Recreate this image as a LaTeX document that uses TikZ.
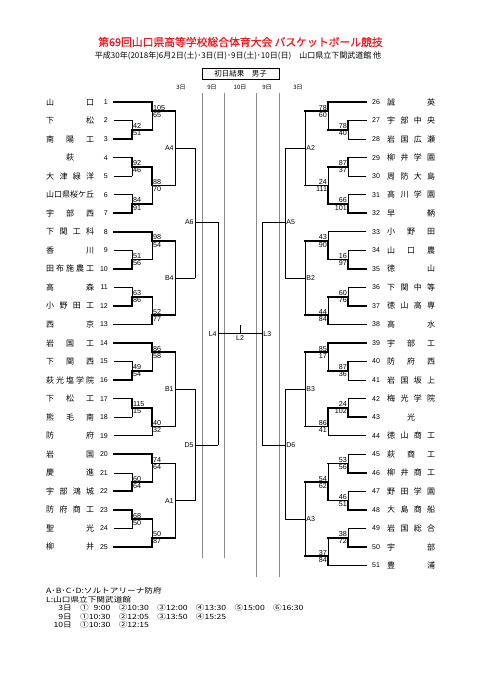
\documentclass[tikz,border=0pt]{standalone}
\usepackage{fontspec}
\setmainfont{Noto Sans CJK JP}
\newfontfamily\numfont{Liberation Sans}
\newfontfamily\titlefont[FakeBold=1]{Noto Sans CJK JP}
\newfontfamily\widefont[FakeStretch=1.2]{Noto Sans CJK JP}
\definecolor{titlered}{RGB}{232,28,36}

% team names are spread over a fixed width
\def\spreadend{}
\newcommand\spread[1]{\makebox[48pt][s]{\spreadA#1\spreadend}}
\def\spreadA#1{#1\spreadB}
\def\spreadB#1{\ifx#1\spreadend\else\hfill#1\expandafter\spreadB\fi}
\newcommand\slot[1]{\makebox[38.6pt][l]{#1}}

% number, row, name, end of line, line style
\newcommand\lteam[5]{%
  \node[tname,anchor=west] (n#1) at (46,#2) {\spread{#3}};
  \node[tnum,anchor=east] (k#1) at (108,#2) {#1};
  \draw[#5] ([xshift=6pt]k#1.east) -- (#4,#2);}
\newcommand\rteam[5]{%
  \node[tnum,anchor=west] (k#1) at (372,#2) {#1};
  \node[tname,anchor=west] (n#1) at (387,#2) {\spread{#3}};
  \draw[#5] (#4,#2) -- ([xshift=-6pt]k#1.west);}

% x, next x, top row, bottom row, junction row, top style, bottom style, scores
\newcommand\lgame[9]{%
  \draw[#6] (#1,#3) -- (#1,#5);
  \draw[#7] (#1,#5) -- (#1,#4);
  \draw[won] (#1,#5) -- (#2,#5);
  \node[score,anchor=south west] (st#1x#5) at (#1,#5) {#8};
  \node[score,anchor=north west] (sb#1x#5) at (#1,#5) {#9};}
\newcommand\rgame[9]{%
  \draw[#6] (#1,#3) -- (#1,#5);
  \draw[#7] (#1,#5) -- (#1,#4);
  \draw[won] (#1,#5) -- (#2,#5);
  \node[score,anchor=south east] (st#1x#5) at (#1,#5) {#8};
  \node[score,anchor=north east] (sb#1x#5) at (#1,#5) {#9};}

% games still to come
\newcommand\lnext[6]{%
  \draw[lost] (#1,#3) -- (#1,#4);
  \draw[lost] (#1,#5) -- (#2,#5);
  \node[rnd,anchor=east] (#6) at (#1,#5) {#6};}
\newcommand\rnext[6]{%
  \draw[lost] (#1,#3) -- (#1,#4);
  \draw[lost] (#1,#5) -- (#2,#5);
  \node[rnd,anchor=west] (#6) at (#1,#5) {#6};}

\begin{document}
\begin{tikzpicture}[x=1pt,y=-1pt,line cap=rect,
  won/.style={line width=1.7pt},
  lost/.style={line width=0.6pt},
  colline/.style={line width=0.5pt,black!45},
  tname/.style={font=\fontsize{8}{9}\selectfont,inner sep=0pt},
  tnum/.style={font=\numfont\fontsize{7}{8}\selectfont,inner sep=0pt},
  score/.style={font=\numfont\fontsize{7.2}{8}\selectfont,inner sep=0.8pt},
  rnd/.style={font=\numfont\fontsize{7}{8}\selectfont,inner sep=1.2pt},
  day/.style={font=\fontsize{6}{7}\selectfont,inner sep=0pt},
  foot/.style={font=\widefont\fontsize{7.2}{8}\selectfont,inner sep=0pt,anchor=west}]
\useasboundingbox (0,0) rectangle (481,680);

\node[font=\titlefont\fontsize{10.8}{12}\selectfont,text=titlered] (title) at (240.5,42) {第69回山口県高等学校総合体育大会 バスケットボール競技};
\node[font=\fontsize{8}{9}\selectfont] (date) at (238,56) {平成30年(2018年)6月2日(土)･3日(日)･9日(土)･10日(日)　山口県立下関武道館 他};
\node[draw,line width=0.6pt,minimum width=77pt,minimum height=11pt,inner sep=0pt,font=\fontsize{7.5}{8}\selectfont] (result) at (240.5,73.5) {初日結果　男子};
\node[day] (d1) at (181,87) {3日};
\node[day] (d2) at (212,87) {9日};
\node[day] (d3) at (240,87) {10日};
\node[day] (d4) at (267,87) {9日};
\node[day] (d5) at (298,87) {3日};

\draw[colline] (202,93) -- (202,558);
\draw[colline] (224,93) -- (224,558);
\draw[colline] (256,93) -- (256,577);
\draw[colline] (279,93) -- (279,577);

\begin{scope}[shift={(0pt,-102pt)},y=-9.27pt]
\lteam{1}{0}{山口}{152}{won}
\lteam{2}{2}{下松}{132}{lost}
\lteam{3}{4}{南陽工}{132}{won}
\lteam{4}{6}{{\hfill 萩\hfill}}{132}{won}
\lteam{5}{8}{大津緑洋}{132}{lost}
\lteam{6}{10}{山口県桜ケ丘}{132}{lost}
\lteam{7}{12}{宇部西}{132}{won}
\lteam{8}{14}{下関工科}{152}{won}
\lteam{9}{16}{香川}{132}{lost}
\lteam{10}{18}{田布施農工}{132}{won}
\lteam{11}{20}{高森}{132}{lost}
\lteam{12}{22}{小野田工}{132}{won}
\lteam{13}{24}{西京}{152}{won}
\lteam{14}{26}{岩国工}{152}{won}
\lteam{15}{28}{下関西}{132}{lost}
\lteam{16}{30}{萩光塩学院}{132}{won}
\lteam{17}{32}{下松工}{132}{won}
\lteam{18}{34}{熊毛南}{132}{lost}
\lteam{19}{36}{防府}{152}{lost}
\lteam{20}{38}{岩国}{152}{won}
\lteam{21}{40}{慶進}{132}{lost}
\lteam{22}{42}{宇部鴻城}{132}{won}
\lteam{23}{44}{防府商工}{132}{won}
\lteam{24}{46}{聖光}{132}{lost}
\lteam{25}{48}{柳井}{152}{won}

\rteam{26}{0}{誠英}{328}{won}
\rteam{27}{2}{宇部中央}{348}{won}
\rteam{28}{4}{岩国広瀬}{348}{lost}
\rteam{29}{6}{柳井学園}{348}{won}
\rteam{30}{8}{周防大島}{348}{lost}
\rteam{31}{10}{高川学園}{348}{lost}
\rteam{32}{12}{早鞆}{348}{won}
\rteam{33}{14}{小野田}{328}{lost}
\rteam{34}{16}{山口農}{348}{lost}
\rteam{35}{18}{徳山}{348}{won}
\rteam{36}{20}{下関中等}{348}{lost}
\rteam{37}{22}{徳山高専}{348}{won}
\rteam{38}{24}{高水}{328}{won}
\rteam{39}{26}{宇部工}{328}{won}
\rteam{40}{28}{防府西}{348}{won}
\rteam{41}{30}{岩国坂上}{348}{lost}
\rteam{42}{32}{梅光学院}{348}{lost}
\rteam{43}{34}{{\hfill 光\hfill}}{348}{won}
\rteam{44}{36}{徳山商工}{328}{lost}
\rteam{45}{38}{萩商工}{348}{lost}
\rteam{46}{40}{柳井商工}{348}{won}
\rteam{47}{42}{野田学園}{348}{lost}
\rteam{48}{44}{大島商船}{348}{won}
\rteam{49}{46}{岩国総合}{348}{lost}
\rteam{50}{48}{宇部}{348}{won}
\rteam{51}{50}{豊浦}{328}{won}

\lgame{132}{152}{2}{4}{3}{lost}{won}{42}{51}
\lgame{152}{175}{0}{3}{1}{won}{lost}{105}{65}
\lgame{132}{152}{6}{8}{7}{won}{lost}{92}{46}
\lgame{132}{152}{10}{12}{11}{lost}{won}{84}{91}
\lgame{152}{175}{7}{11}{9}{won}{lost}{88}{70}
\lgame{132}{152}{16}{18}{17}{lost}{won}{51}{56}
\lgame{152}{175}{14}{17}{15}{won}{lost}{98}{54}
\lgame{132}{152}{20}{22}{21}{lost}{won}{63}{86}
\lgame{152}{175}{21}{24}{23}{lost}{won}{52}{77}
\lgame{132}{152}{28}{30}{29}{lost}{won}{49}{54}
\lgame{152}{175}{26}{29}{27}{won}{lost}{86}{58}
\lgame{132}{152}{32}{34}{33}{won}{lost}{115}{15}
\lgame{152}{175}{33}{36}{35}{won}{lost}{40}{32}
\lgame{132}{152}{40}{42}{41}{lost}{won}{60}{64}
\lgame{152}{175}{38}{41}{39}{won}{lost}{74}{64}
\lgame{132}{152}{44}{46}{45}{won}{lost}{68}{50}
\lgame{152}{175}{45}{48}{47}{lost}{won}{50}{87}

\rgame{348}{328}{2}{4}{3}{won}{lost}{78}{40}
\rgame{328}{305}{0}{3}{1}{won}{lost}{78}{60}
\rgame{348}{328}{6}{8}{7}{won}{lost}{87}{37}
\rgame{348}{328}{10}{12}{11}{lost}{won}{66}{101}
\rgame{328}{305}{7}{11}{9}{lost}{won}{24}{111}
\rgame{348}{328}{16}{18}{17}{lost}{won}{16}{97}
\rgame{328}{305}{14}{17}{15}{lost}{won}{43}{90}
\rgame{348}{328}{20}{22}{21}{lost}{won}{60}{76}
\rgame{328}{305}{21}{24}{23}{lost}{won}{44}{84}
\rgame{348}{328}{28}{30}{29}{won}{lost}{87}{36}
\rgame{328}{305}{26}{29}{27}{won}{lost}{85}{17}
\rgame{348}{328}{32}{34}{33}{lost}{won}{24}{102}
\rgame{328}{305}{33}{36}{35}{won}{lost}{86}{41}
\rgame{348}{328}{38}{40}{39}{lost}{won}{53}{56}
\rgame{348}{328}{42}{44}{43}{lost}{won}{46}{51}
\rgame{328}{305}{39}{43}{41}{lost}{won}{54}{62}
\rgame{348}{328}{46}{48}{47}{lost}{won}{38}{72}
\rgame{328}{305}{47}{50}{49}{lost}{won}{37}{84}

\lnext{175}{195}{1}{9}{5}{A4}
\lnext{175}{195}{15}{23}{19}{B4}
\lnext{175}{195}{27}{35}{31}{B1}
\lnext{175}{195}{39}{47}{43}{A1}
\lnext{195}{218}{5}{19}{13}{A6}
\lnext{195}{218}{31}{43}{37}{D5}
\lnext{218}{262}{13}{37}{25}{L4}
\rnext{305}{285}{1}{9}{5}{A2}
\rnext{305}{285}{15}{23}{19}{B2}
\rnext{305}{285}{27}{35}{31}{B3}
\rnext{305}{285}{41}{49}{45}{A3}
\rnext{285}{262}{5}{19}{13}{A5}
\rnext{285}{262}{31}{45}{37}{D6}
\rnext{262}{262}{13}{37}{25}{L3}
\draw[lost] (240,25) -- (240,24.14);
\node[rnd,anchor=north,inner sep=1.5pt] (L2) at (240,25) {L2};
\end{scope}

\node[foot] (f1) at (46,591) {A･B･C･D:ソルトアリーナ防府};
\node[foot] (f2) at (46,599.5) {L:山口県立下関武道館};
\node[foot,anchor=east] (f3) at (72,608) {3日};
\node[foot] (t3) at (80,608) {\slot{①\phantom{1}9:00}\slot{②10:30}\slot{③12:00}\slot{④13:30}\slot{⑤15:00}⑥16:30};
\node[foot,anchor=east] (f4) at (72,616.5) {9日};
\node[foot] (t4) at (80,616.5) {\slot{①10:30}\slot{②12:05}\slot{③13:50}④15:25};
\node[foot,anchor=east] (f5) at (72,625) {10日};
\node[foot] (t5) at (80,625) {\slot{①10:30}②12:15};
\end{tikzpicture}
\end{document}
